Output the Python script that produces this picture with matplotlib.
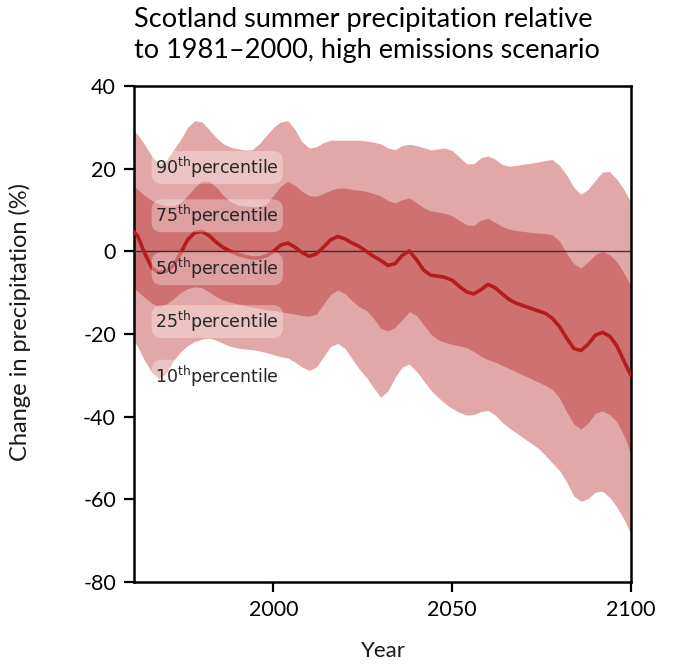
import matplotlib
matplotlib.use("Agg")
import matplotlib.pyplot as plt
import numpy as np

years = list(range(1960, 2101, 2))

p90 = [30.0, 28.3, 25.8, 23.0, 21.2, 22.0, 24.5, 27.0, 30.0, 31.6,
       31.3, 29.5, 27.5, 26.0, 25.2, 24.8, 24.5, 24.6, 26.0, 28.0,
       30.0, 31.3, 31.6, 29.5, 26.5, 25.0, 25.3, 26.3, 26.9, 26.9,
       26.9, 26.9, 26.9, 26.7, 26.4, 26.0, 25.0, 24.6, 25.6, 25.9,
       25.6, 25.1, 24.5, 24.8, 25.0, 24.4, 22.8, 21.2, 21.2, 22.6,
       23.1, 22.3, 21.0, 20.6, 20.8, 21.1, 21.3, 21.6, 22.0, 22.2,
       20.8, 18.5, 15.5, 13.8, 15.0, 17.2, 19.2, 19.3, 17.5, 15.0, 11.8]

p75 = [16.5, 15.0, 13.5, 12.3, 11.5, 11.0, 11.0, 11.8, 13.5, 15.5,
       17.0, 17.0, 15.5, 13.5, 12.0, 11.2, 11.0, 10.8, 10.8, 11.5,
       13.5, 15.8, 16.9, 16.0, 14.5, 13.5, 13.3, 14.0, 14.8, 15.3,
       15.3, 15.0, 14.8, 14.5, 14.0, 13.4, 12.3, 11.7, 12.5, 12.9,
       11.8, 10.5, 9.8, 9.5, 9.2, 8.6, 7.5, 6.4, 6.3, 7.5,
       8.0, 7.0, 6.0, 5.4, 5.0, 4.8, 4.6, 4.4, 4.3, 4.0,
       2.5, -0.5, -3.0, -4.0, -2.5, -0.8, 0.0, -0.8, -2.5, -5.2, -8.5]

p50 = [5.5, 3.8, -0.5, -4.0, -5.2, -4.8, -3.5, -0.5, 2.8, 4.5,
       4.8, 3.8, 2.2, 0.9, 0.0, -0.7, -1.2, -1.6, -1.6, -1.1,
       0.0, 1.5, 2.0, 1.0, -0.3, -1.2, -0.6, 1.0, 2.8, 3.6,
       3.0, 2.0, 1.2, 0.0, -1.2, -2.2, -3.4, -3.0, -1.0, 0.1,
       -2.0, -4.5, -5.8, -6.0, -6.3, -7.0, -8.5, -9.8, -10.3, -9.3,
       -8.0, -8.8, -10.3, -11.7, -12.6, -13.2, -13.8, -14.4, -15.0, -16.2,
       -18.2, -21.0, -23.5, -24.0, -22.5, -20.3, -19.6, -20.5, -22.8, -26.5, -30.0]

p25 = [-8.5, -9.6, -11.2, -12.6, -13.3, -12.8, -11.5, -10.0, -9.0, -8.6,
       -8.8, -9.8, -11.0, -11.8, -12.3, -12.7, -13.1, -13.5, -13.8, -14.1,
       -14.3, -14.6, -14.9, -15.2, -15.5, -15.7, -15.2, -12.8, -10.4, -9.4,
       -10.2, -12.0, -13.4, -14.3, -16.2, -18.6, -19.3, -18.4, -16.5, -14.6,
       -15.5, -17.8, -20.0, -21.4, -22.0, -22.5, -22.9, -23.3, -24.2, -25.4,
       -26.2, -26.8, -27.6, -28.4, -29.2, -30.0, -30.8, -31.6, -32.4, -33.4,
       -35.5, -38.8, -41.8, -43.0, -41.5, -39.2, -38.6, -39.5, -41.2, -44.5, -49.2]

p10 = [-20.5, -23.0, -26.5, -29.3, -30.8, -29.5, -26.5, -24.3, -22.8, -21.8,
       -21.2, -21.0, -21.5, -22.3, -23.0, -23.4, -23.6, -23.8, -24.1, -24.5,
       -25.0, -25.5, -25.8, -26.8, -28.0, -28.8, -28.0, -25.5, -23.0, -22.3,
       -23.5, -26.0, -28.5, -30.5, -33.0, -35.3, -33.8, -30.5, -28.0, -27.3,
       -29.0, -31.3, -33.6, -35.3, -36.8, -38.0, -39.0, -39.6, -39.5, -38.8,
       -38.5, -39.6, -41.4, -42.8, -44.0, -45.2, -46.4, -47.6, -49.3, -51.2,
       -53.0, -55.8, -59.2, -60.5, -59.8, -58.3, -58.0, -59.5, -61.8, -64.8, -68.3]

label_names = ["90", "75", "50", "25", "10"]
label_y = [20.3, 8.6, -4.2, -17.0, -30.2]
label_x = 1967.0

yticks = [-80, -60, -40, -20, 0, 20, 40]
xticks = [2000, 2050, 2100]

title_text = "Scotland summer precipitation relative\nto 1981\u20132000, high emissions scenario"

LIGHT = "#e2a7a7"
DARK = "#cf7171"
LINE = "#b21e1e"
UI_FONT = "Lato"

fig = plt.figure(figsize=(6.81, 6.65), dpi=100)
ax = fig.add_axes([134/681, 1 - 582/665, (631-134)/681, (582-86)/665])

ax.fill_between(years, p10, p90, color=LIGHT, lw=0, zorder=1)
ax.fill_between(years, p25, p75, color=DARK, lw=0, zorder=2)
ax.axhline(0, color="#222222", lw=1.0, alpha=0.85, zorder=3)
ax.plot(years, p50, color=LINE, lw=2.6, zorder=4, solid_capstyle="round")

for name, yy in zip(label_names, label_y):
    ax.text(label_x, yy, name + r"$^{\mathrm{th}}$" + "percentile",
            fontsize=12.5, color="#262626", va="center", ha="left",
            family="DejaVu Sans", zorder=5,
            bbox=dict(boxstyle="round,pad=0.22,rounding_size=0.6",
                      fc="white", ec="none", alpha=0.33))

ax.set_xlim(1961, 2100)
ax.set_ylim(-80, 40)
ax.set_xticks(xticks)
ax.set_yticks(yticks)
ax.set_xticklabels([str(t) for t in xticks], family=UI_FONT, fontsize=15.5)
ax.set_yticklabels([str(t) for t in yticks], family=UI_FONT, fontsize=15.5)
ax.tick_params(axis="both", direction="out", length=7, width=1.6, colors="black", pad=6)
for s in ax.spines.values():
    s.set_linewidth(1.8)
    s.set_color("black")

fig.text(20/681, 1 - 322/665, "Change in precipitation (%)", rotation=90,
         ha="center", va="center", fontsize=17, family=UI_FONT, color="#1a1a1a")
fig.text(383/681, 1 - 651/665, "Year", ha="center", va="center",
         fontsize=16, family=UI_FONT, color="#1a1a1a")
fig.text(134/681, 1 - 7/665, title_text, ha="left", va="top",
         fontsize=19.5, family=UI_FONT, linespacing=1.3)

fig.savefig("out.png", dpi=100)
